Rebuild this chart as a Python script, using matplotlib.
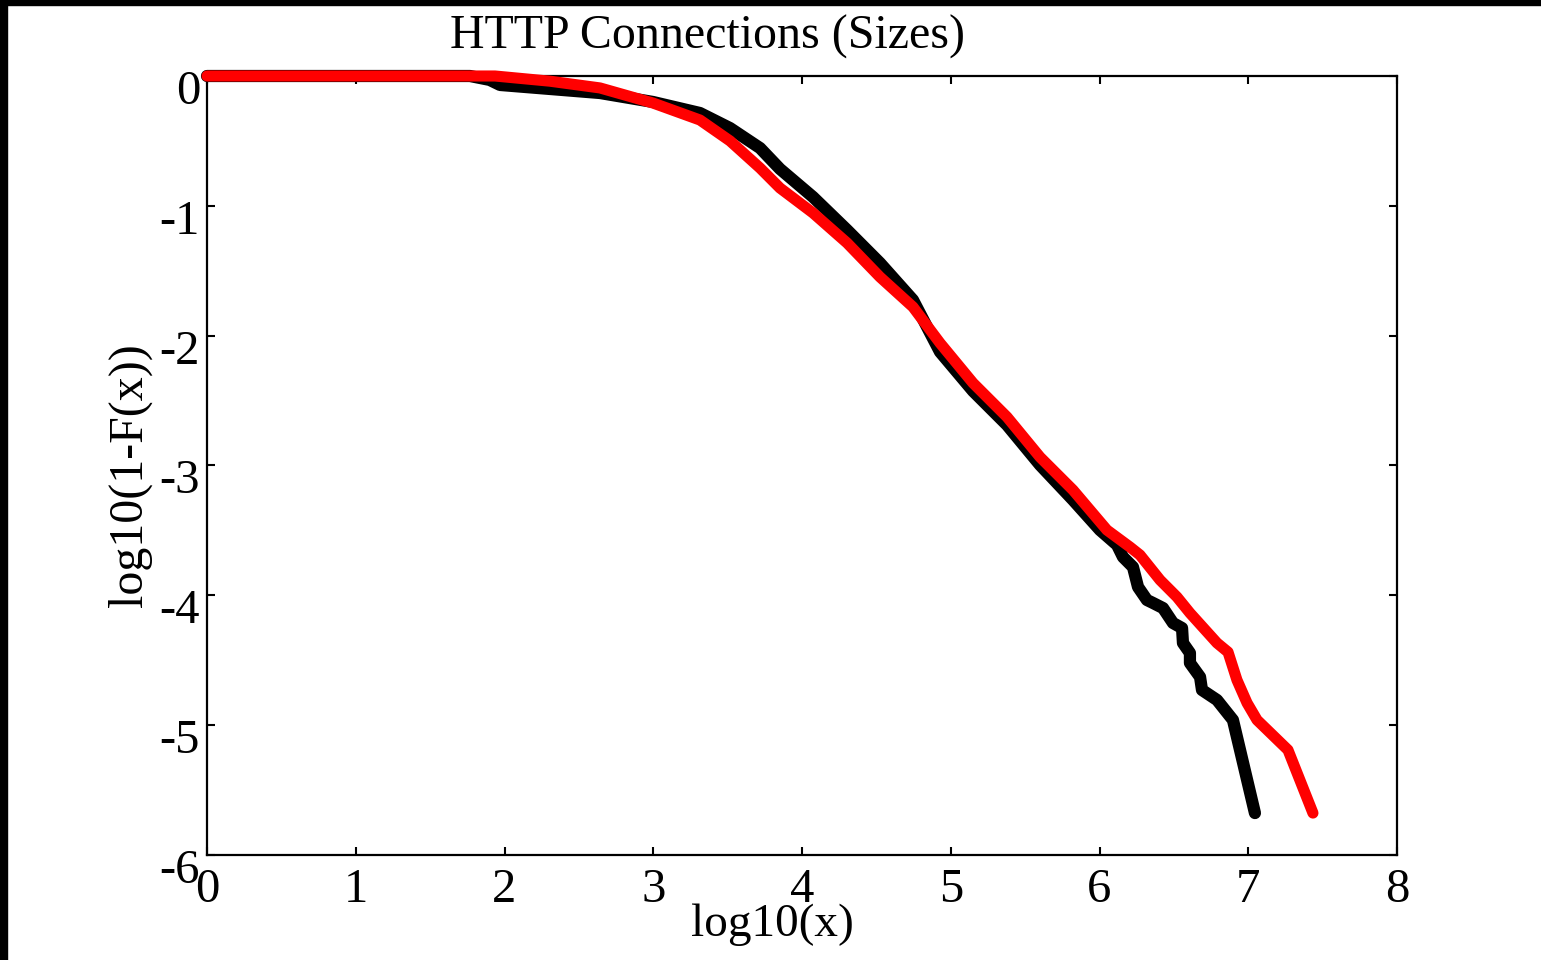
import matplotlib
matplotlib.use("Agg")
import matplotlib.pyplot as plt
import matplotlib.transforms as mtransforms
from matplotlib.patches import Rectangle

plt.rcParams['font.family'] = ['Liberation Serif', 'DejaVu Serif']

red_x = [0.0, 1.936, 2.306, 2.642, 2.998, 3.314, 3.516, 3.718, 3.852, 4.074,
         4.303, 4.524, 4.746, 4.928, 5.150, 5.378, 5.600, 5.822, 6.050, 6.205,
         6.272, 6.407, 6.521, 6.608, 6.790, 6.864, 6.924, 6.992, 7.059, 7.267, 7.435]
red_y = [0.0, 0.0, -0.04, -0.092, -0.208, -0.339, -0.50, -0.709, -0.863, -1.055,
         -1.286, -1.548, -1.779, -2.057, -2.365, -2.626, -2.935, -3.189, -3.497, -3.628,
         -3.689, -3.882, -4.013, -4.136, -4.367, -4.437, -4.652, -4.829, -4.960, -5.191, -5.677]

black_x = [0.0, 1.768, 1.900, 1.970, 2.306, 2.642, 2.998, 3.314, 3.516, 3.718, 3.852,
           4.074, 4.303, 4.524, 4.746, 4.928, 5.150, 5.378, 5.600, 5.822, 6.003,
           6.118, 6.158, 6.225, 6.259, 6.319, 6.360, 6.427, 6.494, 6.555, 6.561,
           6.608, 6.608, 6.676, 6.689, 6.790, 6.897, 7.045]
black_y = [0.0, 0.0, -0.030, -0.069, -0.100, -0.131, -0.200, -0.285, -0.401, -0.555, -0.716,
           -0.932, -1.186, -1.440, -1.725, -2.125, -2.427, -2.688, -2.996, -3.266, -3.497,
           -3.612, -3.705, -3.782, -3.936, -4.036, -4.059, -4.098, -4.213, -4.252, -4.367,
           -4.444, -4.521, -4.629, -4.729, -4.806, -4.960, -5.677]

x_ticks = [0, 1, 2, 3, 4, 5, 6, 7, 8]
y_ticks = [-6, -5, -4, -3, -2, -1, 0]

title = "HTTP Connections (Sizes)"
xlabel = "log10(x)"
ylabel = "log10(1-F(x))"

W, H = 1541, 960
fig = plt.figure(figsize=(W / 100, H / 100), dpi=100)
ax = fig.add_axes([207 / W, 1 - 855 / H, (1397 - 207) / W, (855 - 76) / H])

ax.plot(black_x, black_y, color='black', lw=8.8, solid_capstyle='round',
        solid_joinstyle='round', clip_on=False, zorder=3)
ax.plot(red_x, red_y, color='#ff0000', lw=8.0, solid_capstyle='round',
        solid_joinstyle='round', clip_on=False, zorder=4)

ax.set_xlim(0, 8)
ax.set_ylim(-6, 0)
ax.set_xticks(x_ticks)
ax.set_yticks(y_ticks)
ax.set_xticklabels([str(v) for v in x_ticks])
ax.set_yticklabels([str(v) for v in y_ticks])
ax.tick_params(direction='in', length=6, width=1.5, labelsize=35,
               top=True, right=True)
ax.tick_params(axis='x', pad=9)
ax.tick_params(axis='y', pad=5)
for s in ax.spines.values():
    s.set_linewidth(1.6)

# y tick labels sit slightly below their ticks in the reference
shift = mtransforms.ScaledTranslation(0, -11 / 100, fig.dpi_scale_trans)
for lab in ax.get_yticklabels():
    lab.set_transform(lab.get_transform() + shift)

fig.text(708 / W, 1 - 37 / H, title, ha='center', va='center', fontsize=34.5)
fig.text(772 / W, 1 - 925 / H, xlabel, ha='center', va='center', fontsize=34)
fig.text(130 / W, 1 - 475 / H, ylabel, ha='center', va='center', fontsize=34.5,
         rotation=90)

# black frame on left and top edges
fig.patches.append(Rectangle((0, 0), 7 / W, 1, transform=fig.transFigure,
                             color='black', zorder=10))
fig.patches.append(Rectangle((0, 1 - 5 / H), 1, 5 / H, transform=fig.transFigure,
                             color='black', zorder=10))

fig.savefig("out.png", dpi=100, facecolor='white')
